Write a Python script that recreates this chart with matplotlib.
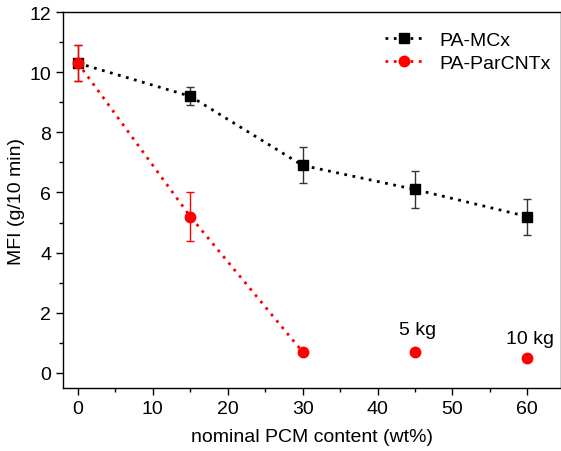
import matplotlib
matplotlib.use('Agg')
import matplotlib.pyplot as plt
from matplotlib.lines import Line2D
import numpy as np

plt.rcParams['font.family'] = ['Liberation Sans', 'DejaVu Sans']

# data
pcm = [0, 15, 30, 45, 60]
mc_mfi = [10.3, 9.2, 6.9, 6.1, 5.2]
mc_err = [0.6, 0.3, 0.6, 0.6, 0.6]

cnt_pcm = [0, 15, 30]
cnt_mfi = [10.3, 5.2, 0.7]
cnt_err = [0.6, 0.8, 0.0]

extra_pcm = [45, 60]
extra_mfi = [0.7, 0.5]
extra_labels = ['5 kg', '10 kg']

fs = 14

fig = plt.figure(figsize=(5.61, 4.52), dpi=100)
ax = fig.add_axes([0.1123, 0.1394, 0.8877, 0.8318])

dots = (0, (1, 2))
ax.errorbar(pcm, mc_mfi, yerr=mc_err, color='black', ls=dots, lw=2,
            marker='s', ms=6.5, ecolor='#333333', elinewidth=1, capsize=3,
            zorder=2)
ax.errorbar(cnt_pcm, cnt_mfi, yerr=cnt_err, color='red', ls=dots, lw=2,
            marker='o', ms=7.5, ecolor='red', elinewidth=1, capsize=3,
            zorder=3)
ax.plot(extra_pcm, extra_mfi, 'o', color='red', ms=7.5)
ax.text(45.3, 1.15, extra_labels[0], ha='center', va='bottom', fontsize=fs)
ax.text(60.3, 0.85, extra_labels[1], ha='center', va='bottom', fontsize=fs)

ax.set_xlim(-2, 64.5)
ax.set_ylim(-0.5, 12)
ax.set_xticks(np.arange(0, 61, 10))
ax.set_xticks(np.arange(5, 65, 10), minor=True)
ax.set_yticks(np.arange(0, 13, 2))
ax.set_yticks(np.arange(1, 12, 2), minor=True)
ax.tick_params(which='both', direction='out', labelsize=fs, width=1)
ax.tick_params(which='major', length=5)
ax.tick_params(which='minor', length=3)
for s in ax.spines.values():
    s.set_linewidth(1)

ax.set_xlabel('nominal PCM content (wt%)', fontsize=fs, labelpad=8)
ax.set_ylabel('MFI (g/10 min)', fontsize=fs, labelpad=3)

handles = [Line2D([], [], color='black', ls=dots, lw=2, marker='s', ms=6.5),
           Line2D([], [], color='red', ls=dots, lw=2, marker='o', ms=7.5)]
ax.legend(handles, ['PA-MCx', 'PA-ParCNTx'], loc='upper right', frameon=False,
          fontsize=fs, handlelength=2.0, borderaxespad=0.6, labelspacing=0.25,
          handletextpad=0.8, bbox_to_anchor=(1.018, 1.0))

fig.savefig('out.png', dpi=100)
